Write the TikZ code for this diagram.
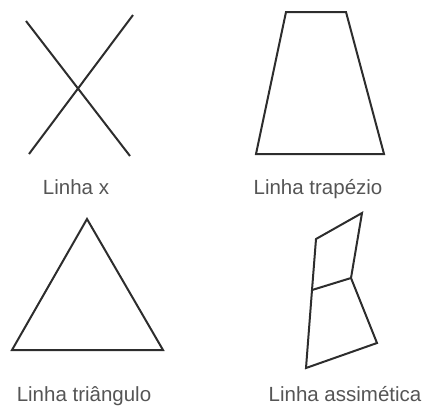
\documentclass[tikz,border=0pt]{standalone}
\usepackage{fontspec}
\setmainfont{Liberation Sans}
\usepackage{xcolor}
\usetikzlibrary{positioning}
\definecolor{ink}{RGB}{45,45,45}
\definecolor{caption}{RGB}{85,85,85}

\begin{document}
\begin{tikzpicture}[x=1pt, y=-1pt,
    figline/.style={line width=2pt, ink, line join=miter},
    figlabel/.style={font=\fontsize{20.5}{24}\selectfont, text=caption, anchor=base, inner sep=0pt}]
    \useasboundingbox (0,0) rectangle (427,405);
    % Linha x
    \coordinate (xa) at (26,21);
    \coordinate (xb) at (130,156);
    \coordinate (xc) at (133,15);
    \coordinate (xd) at (29,154);
    \draw[figline] (xa) -- (xb);
    \draw[figline] (xc) -- (xd);
    \node[figlabel] (lx) at (76,194) {Linha x};
    % Linha trapezio
    \coordinate (ta) at (286,12);
    \coordinate (tb) at (346,12);
    \coordinate (tc) at (384,154);
    \coordinate (td) at (256,154);
    \draw[figline] (ta) -- (tb) -- (tc) -- (td) -- cycle;
    \node[figlabel] (lt) at (318,194) {Linha trapézio};
    % Linha triangulo
    \coordinate (ra) at (87,219);
    \coordinate (rb) at (163,350);
    \coordinate (rc) at (12,350);
    \draw[figline] (ra) -- (rb) -- (rc) -- cycle;
    \node[figlabel] (lr) at (84,401) {Linha triângulo};
    % Linha assimetica
    \coordinate (aa) at (316,239);
    \coordinate (ab) at (362,213);
    \coordinate (ac) at (351,278);
    \coordinate (ad) at (312,290);
    \coordinate (ae) at (377,343);
    \coordinate (af) at (306,368);
    \draw[figline] (aa) -- (ab) -- (ac) -- (ae) -- (af) -- (ad) -- cycle;
    \draw[figline] (ad) -- (ac);
    \node[figlabel] (la) at (345,401) {Linha assimética};
\end{tikzpicture}
\end{document}
